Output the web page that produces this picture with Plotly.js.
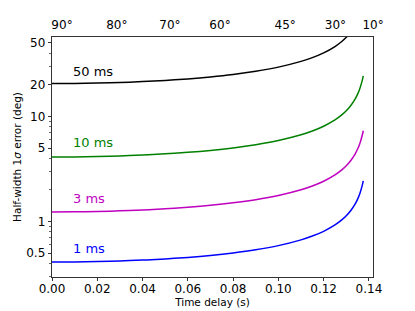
<!DOCTYPE html>
<html>
<head>
<meta charset="utf-8">
<script src="https://cdn.plot.ly/plotly-3.0.1.min.js"></script>
<style>html,body{margin:0;padding:0;background:#fff;}#chart{width:415px;height:311px;}</style>
</head>
<body>
<div id="chart"></div>
<script>
// Time delay samples (s)
var timeDelay = [0, 0.01, 0.02, 0.03, 0.04, 0.05, 0.06, 0.07, 0.08, 0.09, 0.10, 0.11, 0.115, 0.12, 0.125, 0.128, 0.13, 0.132, 0.134, 0.135, 0.136, 0.137, 0.1375];
// Half-width 1-sigma error (deg) for each timing error
var err1ms  = [0.411, 0.412, 0.415, 0.421, 0.429, 0.440, 0.455, 0.475, 0.502, 0.538, 0.589, 0.668, 0.726, 0.806, 0.926, 1.034, 1.133, 1.271, 1.478, 1.631, 1.847, 2.181, 2.436];
var err3ms  = [1.232, 1.235, 1.245, 1.262, 1.286, 1.320, 1.365, 1.424, 1.504, 1.612, 1.767, 2.003, 2.177, 2.416, 2.776, 3.098, 3.396, 3.809, 4.431, 4.889, 5.537, 6.538, 7.302];
var err10ms = [4.107, 4.118, 4.150, 4.206, 4.287, 4.399, 4.549, 4.748, 5.013, 5.375, 5.890, 6.678, 7.256, 8.055, 9.253, 10.33, 11.32, 12.70, 14.77, 16.30, 18.46, 21.80, 24.34];
var err50ms = [20.54, 20.59, 20.76, 21.03, 21.44, 22.00, 22.75, 23.75, 25.07, 26.88, 29.46, 33.40, 36.29, 40.28, 46.28, 51.66, 56.62, 63.51, 73.88, 81.55, 92.31, 109.0, 121.7];

var seriesNames = ['1 ms', '3 ms', '10 ms', '50 ms'];
var seriesColors = ['#0000ff', '#bf00bf', '#008000', '#000000'];
var labelY = [0.553, 1.66, 5.6, 27];
var labelX = 0.0085;

// Top axis: angles and the time delays where they fall
var topTickVals = [0, 0.0242, 0.0477, 0.0698, 0.0986, 0.1208, 0.1374];
var topTickLabels = ['90°', '80°', '70°', '60°', '45°', '30°', '10°'];

var yTickVals = [0.5, 1, 5, 10, 20, 50];
var yTickLabels = ['0.5', '1', '5', '10', '20', '50'];
var yMinorVals = [0.3, 0.4, 0.6, 0.7, 0.8, 0.9, 2, 3, 4, 6, 7, 8, 9, 30, 40];

var allErr = [err1ms, err3ms, err10ms, err50ms];
var traces = allErr.map(function(e, i) {
  return {x: timeDelay, y: e, type: 'scatter', mode: 'lines', line: {color: seriesColors[i], width: 1.5, shape: 'spline'}, showlegend: false, hoverinfo: 'skip'};
});
traces.push({x: [], y: [], xaxis: 'x2', yaxis: 'y', type: 'scatter', mode: 'lines', showlegend: false});

var font = {family: 'DejaVu Sans, sans-serif', color: '#000'};
var annotations = seriesNames.map(function(n, i) {
  return {x: labelX, y: Math.log10(labelY[i]), xref: 'x', yref: 'y', text: n, showarrow: false, xanchor: 'left', yanchor: 'middle', font: {family: font.family, size: 13, color: seriesColors[i]}};
});

var layout = {
  width: 415, height: 311,
  margin: {l: 52, r: 42, t: 37, b: 34},
  paper_bgcolor: '#fff', plot_bgcolor: '#fff',
  showlegend: false,
  font: {family: font.family, size: 12, color: '#000'},
  xaxis: {
    range: [0, 0.1418], tickvals: [0, 0.02, 0.04, 0.06, 0.08, 0.10, 0.12, 0.14], tickformat: '.2f',
    ticks: 'outside', ticklen: 3.5, tickwidth: 0.8, tickcolor: '#000',
    showline: true, linecolor: '#000', linewidth: 0.8, mirror: true,
    showgrid: false, zeroline: false,
    tickfont: {size: 12}, ticklabelstandoff: -3,
    title: {text: 'Time delay (s)', font: {size: 10.5}, standoff: 1}
  },
  xaxis2: {
    overlaying: 'x', side: 'top', anchor: 'y', range: [0, 0.1418],
    tickmode: 'array', tickvals: topTickVals, ticktext: topTickLabels,
    ticks: '', showline: false, showgrid: false, zeroline: false,
    tickfont: {size: 12}, ticklabelshift: 10, ticklabelstandoff: 5
  },
  yaxis: {
    type: 'log', range: [Math.log10(0.296), Math.log10(57)],
    tickmode: 'array', tickvals: yTickVals, ticktext: yTickLabels,
    ticks: 'outside', ticklen: 3.5, tickwidth: 0.8, tickcolor: '#000',
    minor: {tickmode: 'array', tickvals: yMinorVals, ticks: 'outside', ticklen: 2, tickwidth: 0.6, tickcolor: '#000', showgrid: false},
    showline: true, linecolor: '#000', linewidth: 0.8, mirror: true,
    showgrid: false, zeroline: false,
    tickfont: {size: 12},
    title: {text: 'Half-width 1<i>σ</i> error (deg)', font: {size: 10.5}, standoff: 2}
  },
  annotations: annotations
};

Plotly.newPlot('chart', traces, layout, {staticPlot: true, displayModeBar: false});
</script>
</body>
</html>
